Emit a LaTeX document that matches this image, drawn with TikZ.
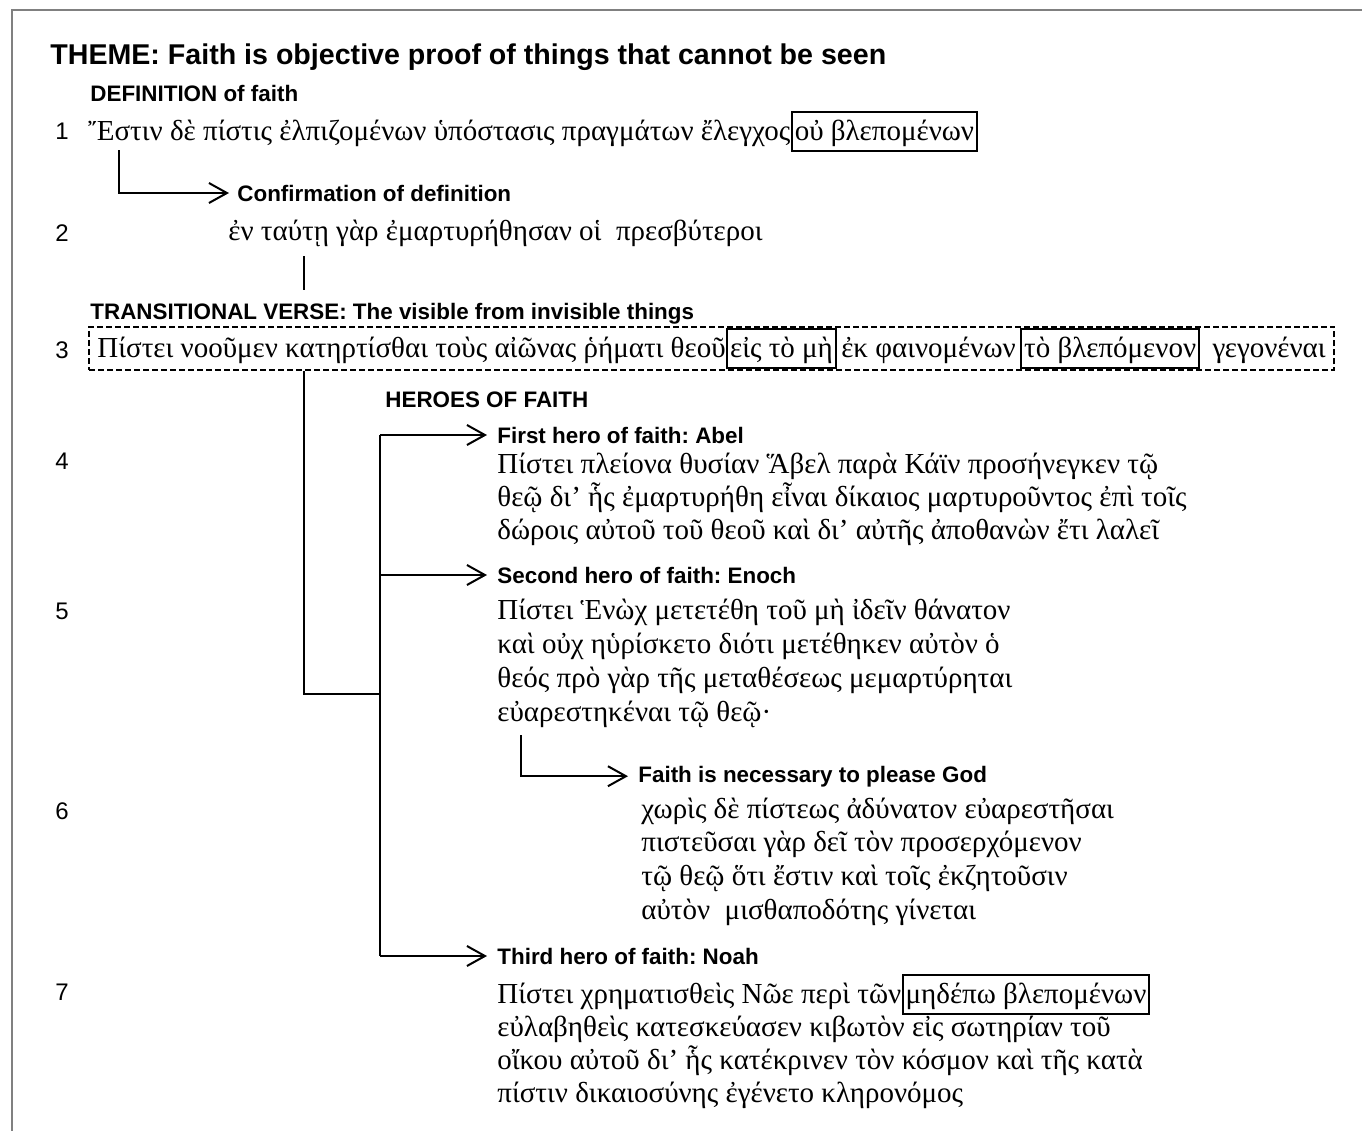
\documentclass[tikz,border=0pt]{standalone}
\usepackage{fontspec}
\setmainfont{Liberation Sans}
\newfontfamily\greekfont{Liberation Serif}
\usetikzlibrary{arrows.meta, positioning, fit, calc}

\begin{document}
\frenchspacing
\begin{tikzpicture}[x=0.5pt, y=-0.5pt, >={Straight Barb[length=9pt,width=10pt]},
  title/.style={font=\bfseries\fontsize{14.3}{17}\selectfont, anchor=base west, inner sep=0pt},
  head/.style={font=\bfseries\fontsize{11.2}{13}\selectfont, anchor=base west, inner sep=0pt},
  num/.style={font=\fontsize{12}{14}\selectfont, anchor=base, inner sep=0pt},
  greek/.style={font=\greekfont\fontsize{14.5}{17}\selectfont, anchor=base west, inner sep=0pt},
  boxed/.style={greek, draw, line width=1pt, inner xsep=1.5pt, inner ysep=1pt, text height=13.2pt, text depth=4.6pt},
  dashbox/.style={draw, line width=1pt, dash pattern=on 3pt off 1.5pt, inner xsep=4pt, inner ysep=0.5pt},
  link/.style={line width=1pt},
  flow/.style={link, ->}]
  \useasboundingbox (0,0) rectangle (1362,1131);

  % Frame
  \draw[gray, line width=1pt] (12,1140) -- (12,10) -- (1370,10);

  % Headings
  \node[title] (theme) at (50,64) {THEME: Faith is objective proof of things that cannot be seen};
  \node[head] (defn) at (90,101) {DEFINITION of faith};
  \node[head] (confirm) at (237,201) {Confirmation of definition};
  \node[head] (trans) at (90,319) {TRANSITIONAL VERSE: The visible from invisible things};
  \node[head] (heroes) at (385,407) {HEROES OF FAITH};
  \node[head] (abel) at (497,443) {First hero of faith: Abel};
  \node[head] (enoch) at (497,583) {Second hero of faith: Enoch};
  \node[head] (please) at (638,782) {Faith is necessary to please God};
  \node[head] (noah) at (497,964) {Third hero of faith: Noah};

  % Verse numbers
  \foreach \n/\y in {1/139, 2/241, 3/358, 4/469, 5/619, 6/819, 7/1000}
    \node[num] (num\n) at (62,\y) {\n};

  % Verse 1
  \node[greek] (v1) at (88,140) {Ἔστιν δὲ πίστις ἐλπιζομένων ὑπόστασις πραγμάτων ἔλεγχος};
  \node[boxed] (v1box) at (v1.base east) {οὐ βλεπομένων};

  % Verse 2
  \node[greek] (v2) at (228,240) {ἐν ταύτῃ γὰρ ἐμαρτυρήθησαν οἱ\ \ πρεσβύτεροι};

  % Verse 3
  \node[greek] (v3a) at (97,357) {Πίστει νοοῦμεν κατηρτίσθαι τοὺς αἰῶνας ῥήματι θεοῦ};
  \node[boxed] (v3b) at (v3a.base east) {εἰς τὸ μὴ};
  \node[greek] (v3c) at ($(v3b.base east)+(4,0)$) {ἐκ φαινομένων};
  \node[boxed] (v3d) at ($(v3c.base east)+(4,0)$) {τὸ βλεπόμενον};
  \node[greek] (v3e) at ($(v3d.base east)+(12,0)$) {γεγονέναι};
  \node[dashbox, fit=(v3a)(v3b)(v3e)] (v3box) {};

  % Verse 4
  \foreach \t [count=\i from 0] in {{Πίστει πλείονα θυσίαν Ἅβελ παρὰ Κάϊν προσήνεγκεν τῷ},
      {θεῷ δι’ ἧς ἐμαρτυρήθη εἶναι δίκαιος μαρτυροῦντος ἐπὶ τοῖς},
      {δώροις αὐτοῦ τοῦ θεοῦ καὶ δι’ αὐτῆς ἀποθανὼν ἔτι λαλεῖ}}
    \node[greek] (v4l\i) at (497,473+33*\i) {\t};

  % Verse 5
  \foreach \t [count=\i from 0] in {{Πίστει Ἑνὼχ μετετέθη τοῦ μὴ ἰδεῖν θάνατον},
      {καὶ οὐχ ηὑρίσκετο διότι μετέθηκεν αὐτὸν ὁ},
      {θεός πρὸ γὰρ τῆς μεταθέσεως μεμαρτύρηται},
      {εὐαρεστηκέναι τῷ θεῷ·}}
    \node[greek] (v5l\i) at (497,619+34*\i) {\t};

  % Verse 6
  \foreach \t [count=\i from 0] in {{χωρὶς δὲ πίστεως ἀδύνατον εὐαρεστῆσαι},
      {πιστεῦσαι γὰρ δεῖ τὸν προσερχόμενον},
      {τῷ θεῷ ὅτι ἔστιν καὶ τοῖς ἐκζητοῦσιν},
      {αὐτὸν\ \ μισθαποδότης γίνεται}}
    \node[greek] (v6l\i) at (641,818+33.7*\i) {\t};

  % Verse 7
  \node[greek] (v7l0) at (497,1003) {Πίστει χρηματισθεὶς Νῶε περὶ τῶν};
  \node[boxed] (v7box) at (v7l0.base east) {μηδέπω βλεπομένων};
  \foreach \t [count=\i from 1] in {{εὐλαβηθεὶς κατεσκεύασεν κιβωτὸν εἰς σωτηρίαν τοῦ},
      {οἴκου αὐτοῦ δι’ ἧς κατέκρινεν τὸν κόσμον καὶ τῆς κατὰ},
      {πίστιν δικαιοσύνης ἐγένετο κληρονόμος}}
    \node[greek] (v7l\i) at (497,1003+33*\i) {\t};

  % Connectors
  \coordinate (c1) at (119,150);
  \draw[flow, shorten >=4pt] (c1) |- (confirm.west);
  \coordinate (t2a) at (304,256);
  \coordinate (t2b) at (304,290);
  \draw[link] (t2a) -- (t2b);
  \coordinate (fork) at (380,694);
  \draw[link] (v3box.south -| t2a) |- (fork);
  \draw[link] (fork |- abel.west) -- (fork |- noah.west);
  \foreach \h in {abel, enoch, noah}
    \draw[flow, shorten >=5pt] (fork |- \h.west) -- (\h.west);
  \coordinate (c6) at (521,735);
  \draw[flow, shorten >=5pt] (c6) |- (please.west);
\end{tikzpicture}
\end{document}
